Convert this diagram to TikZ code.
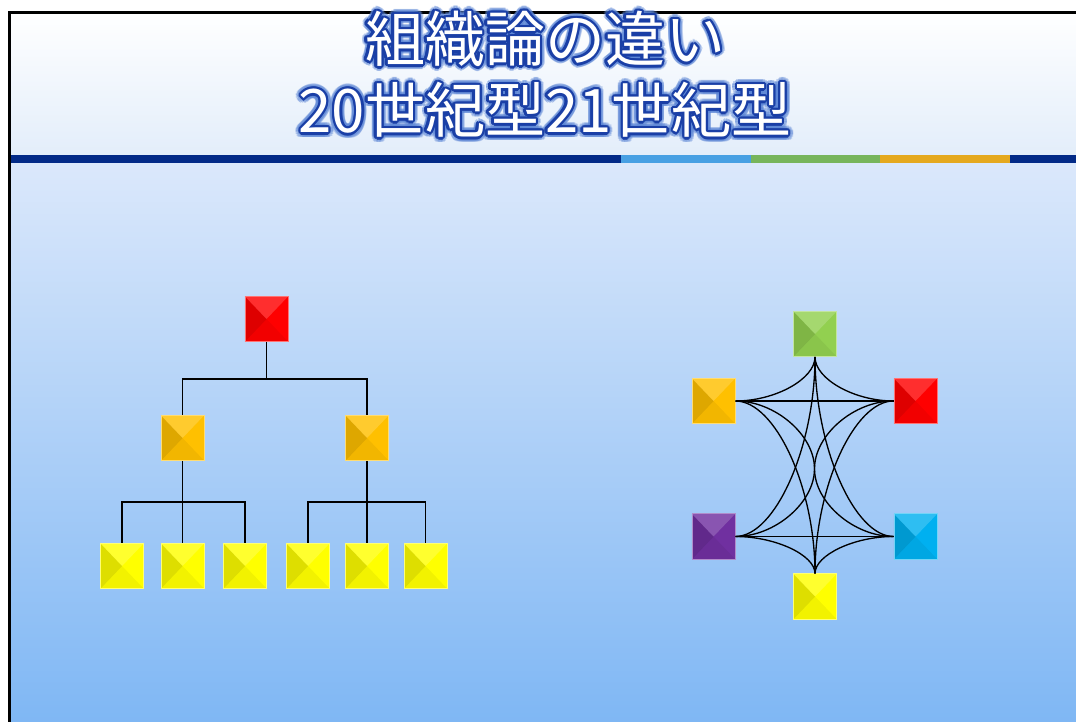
\documentclass[tikz,border=0pt]{standalone}
\usepackage{fontspec}
\usetikzlibrary{calc}
\newfontfamily\jpfont{Noto Sans CJK JP}
\definecolor{cred}{HTML}{FF0000}
\definecolor{corange}{HTML}{FFC000}
\definecolor{cyellow}{HTML}{FFFF00}
\definecolor{cgreen}{HTML}{92D050}
\definecolor{cpurple}{HTML}{7030A0}
\definecolor{ccyan}{HTML}{00B0F0}
\definecolor{sdark}{HTML}{022A87}
\definecolor{slight}{HTML}{47A0E3}
\definecolor{sgreen}{HTML}{77B55B}
\definecolor{sorange}{HTML}{E5A91E}
\definecolor{tblue}{HTML}{1A3FA6}
\definecolor{tglow}{HTML}{5C86D6}
\definecolor{hbot}{HTML}{E2EDFA}
\definecolor{mtop}{HTML}{DBE8FB}
\definecolor{mbot}{HTML}{7FB7F4}
\tikzset{
  sq/.style={draw=#1!55!white, line width=0.5pt, fill=#1,
    minimum width=32.5pt, minimum height=34pt, inner sep=0pt,
    path picture={
      \fill[black,opacity=0.13] (path picture bounding box.north west) -- (path picture bounding box.center) -- (path picture bounding box.south west) -- cycle;
      \fill[white,opacity=0.18] (path picture bounding box.north west) -- (path picture bounding box.center) -- (path picture bounding box.north east) -- cycle;
      \fill[black,opacity=0.05] (path picture bounding box.south west) -- (path picture bounding box.center) -- (path picture bounding box.south east) -- cycle;
    }},
  ttl/.style={font=\jpfont\fontsize{45pt}{54pt}\selectfont, inner sep=0pt, anchor=center},
  tree/.style={draw=black, line width=1.1pt},
  net/.style={draw=black, line width=1pt},
}
\newcommand\glowtitle[3]{%
  \foreach \a in {0,20,...,340}{\path (#1,#2) ++(\a:5) node[ttl,text=tglow,opacity=0.35] {#3};}%
  \foreach \a in {0,30,...,330}{\path (#1,#2) ++(\a:2.4) node[ttl,text=tblue] {#3};}%
  \node[ttl,text=white] at (#1,#2) {#3};%
}
% quarter curve from #1 to #2 with corner #3
\newcommand\qcurve[3]{\draw[net] (#1) .. controls ($(#1)!0.5!(#3)$) and ($(#2)!0.5!(#3)$) .. (#2);}
% S curve from #1 to #2 through midpoint #3 with vertical tangent there
\newcommand\scurve[3]{\draw[net] (#1) .. controls ($(#1)!0.5!(#1 -| #3)$) and ($(#3)!0.5!(#1 -| #3)$) .. (#3)
   .. controls ($(#3)!0.5!(#2 -| #3)$) and ($(#2)!0.5!(#2 -| #3)$) .. (#2);}
\begin{document}
\begin{tikzpicture}[x=0.75pt,y=0.75pt]
\useasboundingbox (0,0) rectangle (1076,722);
\fill[white] (0,0) rectangle (1076,722);
% backgrounds
\shade[top color=white, bottom color=hbot] (10,563) rectangle (1076,710);
\shade[top color=mtop, bottom color=mbot] (10,0) rectangle (1076,560);
% stripe
\fill[sdark] (10,559) rectangle (621,567);
\fill[slight] (621,559) rectangle (751,567);
\fill[sgreen] (751,559) rectangle (880,567);
\fill[sorange] (880,559) rectangle (1010,567);
\fill[sdark] (1010,559) rectangle (1076,567);
% frame
\draw[line width=2.25pt] (9.8,0) -- (9.8,709.5) -- (1076,709.5);
% title
\glowtitle{545}{683}{組織論の違い}
\glowtitle{545}{612}{20世紀型21世紀型}
% tree
\node[sq=cred] (tr) at (266.5,403) {};
\node[sq=corange] (to1) at (182.5,284) {};
\node[sq=corange] (to2) at (367,284) {};
\node[sq=cyellow] (ty1) at (122,156) {};
\node[sq=cyellow] (ty2) at (182.5,156) {};
\node[sq=cyellow] (ty3) at (245,156) {};
\node[sq=cyellow] (ty4) at (308,156) {};
\node[sq=cyellow] (ty5) at (367,156) {};
\node[sq=cyellow] (ty6) at (425.5,156) {};
\coordinate (j1) at (266.5,343);
\coordinate (j2) at (182.5,220);
\coordinate (j3) at (367,220);
\draw[tree] (tr.south) -- (j1);
\draw[tree] (to1.north) |- (j1) -| (to2.north);
\draw[tree] (to1.south) -- (ty2.north);
\draw[tree] (ty1.north) |- (j2) -| (ty3.north);
\draw[tree] (to2.south) -- (ty5.north);
\draw[tree] (ty4.north) |- (j3) -| (ty6.north);
% network
\node[sq=cgreen] (ng) at (815,388) {};
\node[sq=corange] (no) at (713.5,321) {};
\node[sq=cred] (nr) at (915.5,321) {};
\node[sq=cpurple] (np) at (713.5,185.5) {};
\node[sq=ccyan] (nc) at (915.5,185.5) {};
\node[sq=cyellow] (ny) at (815,125.5) {};
\coordinate (ku) at (ng.south |- no.east);
\coordinate (kl) at (ng.south |- np.east);
\coordinate (mc) at ($(no.east)!0.5!(nc.west)$);
\draw[net] (no.east) -- (nr.west);
\draw[net] (np.east) -- (nc.west);
\qcurve{ng.south}{no.east}{ku}
\qcurve{ng.south}{nr.west}{ku}
\qcurve{ng.south}{np.east}{kl}
\qcurve{ng.south}{nc.west}{kl}
\qcurve{ny.north}{np.east}{kl}
\qcurve{ny.north}{nc.west}{kl}
\qcurve{ny.north}{no.east}{ku}
\qcurve{ny.north}{nr.west}{ku}
\scurve{no.east}{nc.west}{mc}
\scurve{nr.west}{np.east}{mc}
\end{tikzpicture}
\end{document}
